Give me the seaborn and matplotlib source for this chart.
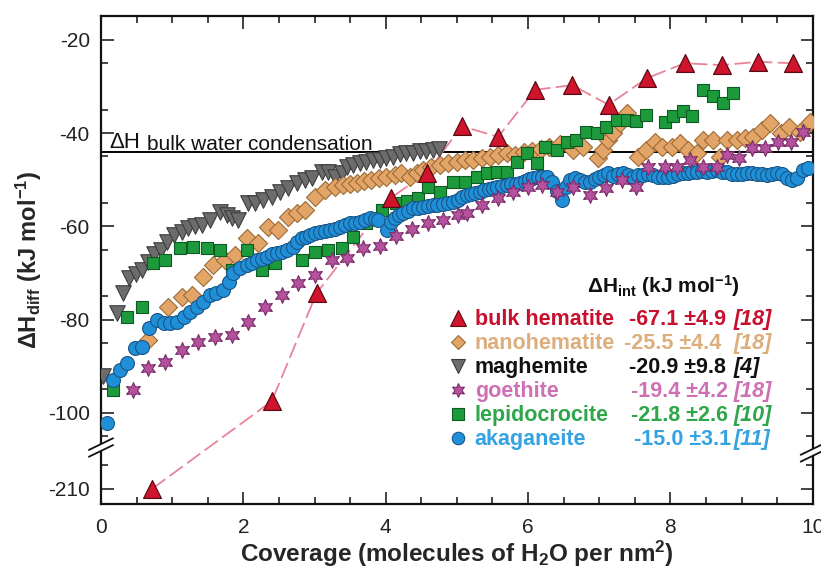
import numpy as np
import matplotlib
matplotlib.use("Agg")
import matplotlib.pyplot as plt
import seaborn as sns

# ---------------- data ----------------
hem_x = [0.72, 2.40, 3.03, 4.07, 4.58, 5.07, 5.58, 6.10, 6.62, 7.13, 7.67, 8.20, 8.72, 9.23, 9.72]
hem_y = [-210, -97.5, -74.3, -53.9, -48.5, -38.5, -40.8, -30.7, -29.7, -33.9, -28.2, -25.0, -25.4, -24.7, -25.0]

mag_x = [0.03, 0.22, 0.31, 0.40, 0.49, 0.57, 0.66, 0.75, 0.84, 0.93, 1.02, 1.14, 1.22, 1.32, 1.42, 1.53,
         1.67, 1.77, 1.84, 1.93, 2.06, 2.16, 2.28, 2.40, 2.51, 2.63, 2.75, 2.86, 2.96, 3.10, 3.19, 3.29,
         3.38, 3.45, 3.54, 3.64, 3.73, 3.82, 3.92, 4.01, 4.10, 4.20, 4.29, 4.38, 4.48, 4.57, 4.66, 4.75]
mag_y = [-92.0, -78.6, -74.4, -71.1, -70.2, -69.4, -67.6, -66.0, -65.1, -63.3, -61.8, -61.2, -60.4, -59.9,
         -59.7, -58.6, -56.9, -57.6, -58.2, -58.6, -55.0, -55.0, -54.3, -53.7, -52.6, -51.8, -50.7, -50.0,
         -49.6, -48.3, -48.3, -49.4, -48.5, -47.3, -46.8, -46.4, -46.2, -45.8, -45.8, -45.3, -45.1, -44.4,
         -44.2, -44.2, -43.9, -43.9, -43.7, -43.5]

nano_x = [0.66, 0.94, 1.14, 1.28, 1.43, 1.57, 1.74, 1.88, 2.05, 2.21, 2.35, 2.49, 2.63, 2.75, 2.86, 3.00,
          3.15, 3.29, 3.40, 3.50, 3.60, 3.70, 3.80, 3.90, 4.01, 4.13, 4.22, 4.34, 4.44, 4.52, 4.64, 4.76,
          4.88, 5.00, 5.11, 5.22, 5.35, 5.46, 5.58, 5.70, 5.82, 5.94, 6.06, 6.18, 6.30, 6.45, 6.63, 6.77,
          6.98, 7.05, 7.12, 7.19, 7.29, 7.39, 7.54, 7.66, 7.78, 7.88, 8.02, 8.13, 8.25, 8.37, 8.46, 8.60,
          8.69, 8.80, 8.93, 9.05, 9.16, 9.28, 9.40, 9.56, 9.67, 9.82, 9.96]
nano_y = [-84.4, -77.2, -75.2, -74.7, -70.9, -68.3, -67.2, -66.1, -62.5, -63.6, -60.1, -60.8, -58.0, -57.1,
          -56.5, -53.7, -52.2, -51.5, -51.2, -51.0, -50.6, -50.3, -50.0, -49.6, -49.4, -49.0, -48.5, -49.4,
          -48.5, -47.9, -47.3, -46.8, -46.4, -46.2, -45.8, -45.8, -45.3, -45.1, -44.7, -44.2, -44.6, -44.0,
          -43.8, -43.4, -43.0, -42.3, -43.6, -43.0, -45.3, -43.6, -41.5, -40.0, -37.8, -35.7, -45.1, -43.6,
          -41.9, -43.0, -43.0, -42.1, -43.6, -44.3, -41.5, -41.5, -45.1, -41.5, -41.5, -41.0, -40.8, -39.3,
          -37.8, -40.0, -38.6, -39.7, -37.6]

lep_x = [0.17, 0.36, 0.57, 0.73, 0.90, 1.11, 1.29, 1.49, 1.67, 1.84, 2.05, 2.26, 2.44, 2.82, 3.00, 3.19,
         3.38, 3.54, 3.73, 3.95, 4.15, 4.30, 4.45, 4.60, 4.76, 4.94, 5.11, 5.28, 5.42, 5.56, 5.70, 5.84,
         5.98, 6.12, 6.24, 6.40, 6.54, 6.68, 6.82, 6.97, 7.10, 7.25, 7.39, 7.52, 7.66, 7.92, 8.04, 8.17,
         8.30, 8.46, 8.60, 8.74, 8.88]
lep_y = [-95.1, -79.4, -77.3, -67.9, -67.2, -64.6, -64.4, -64.6, -65.1, -69.4, -65.1, -69.4, -67.9, -67.2,
         -65.5, -65.1, -64.6, -62.3, -59.3, -56.5, -55.0, -54.5, -53.9, -51.5, -52.6, -50.5, -50.5, -49.4,
         -48.5, -48.3, -48.3, -46.2, -44.2, -46.4, -43.0, -43.6, -41.9, -41.5, -39.7, -40.0, -38.6, -37.2,
         -37.2, -37.4, -36.1, -37.6, -36.3, -35.2, -36.3, -30.7, -32.0, -33.5, -31.4]

goe_x = [0.45, 0.66, 0.90, 1.14, 1.36, 1.60, 1.84, 2.06, 2.30, 2.54, 2.77, 3.00, 3.24, 3.45, 3.68, 3.92,
         4.15, 4.37, 4.60, 4.80, 5.01, 5.14, 5.35, 5.58, 5.79, 6.00, 6.20, 6.41, 6.63, 6.87, 7.10, 7.32,
         7.52, 7.68, 7.92, 8.09, 8.27, 8.46, 8.65, 8.79, 8.97, 9.14, 9.33, 9.51, 9.70, 9.86]
goe_y = [-95.1, -90.4, -89.1, -86.5, -84.8, -83.7, -83.3, -80.5, -77.3, -74.7, -72.1, -70.4, -67.2, -66.8,
         -64.6, -64.2, -62.0, -60.5, -59.3, -58.6, -57.6, -57.1, -55.4, -53.9, -52.6, -51.5, -51.1, -52.6,
         -51.6, -53.3, -51.8, -50.0, -51.5, -47.3, -47.3, -47.3, -45.8, -47.3, -47.3, -44.7, -45.3, -43.2,
         -43.2, -41.9, -41.9, -39.7]

aka_x = [0.08, 0.17, 0.27, 0.36, 0.48, 0.57, 0.67, 0.79, 0.88, 0.97, 1.07, 1.16, 1.25, 1.35, 1.44, 1.53,
         1.62, 1.72, 1.80, 1.86, 1.95, 2.05, 2.12, 2.19, 2.26, 2.33, 2.40, 2.47, 2.54, 2.61, 2.70, 2.76,
         2.82, 2.88, 2.94, 3.01, 3.08, 3.15, 3.22, 3.29, 3.36, 3.43, 3.50, 3.57, 3.64, 3.71, 3.78, 3.85,
         3.89, 4.02, 4.08, 4.13, 4.19, 4.24, 4.31, 4.38, 4.45, 4.52, 4.59, 4.66, 4.72, 4.80, 4.87, 4.94,
         5.01, 5.07, 5.14, 5.20, 5.26, 5.32, 5.38, 5.45, 5.51, 5.57, 5.64, 5.70, 5.76, 5.83, 5.89, 5.95,
         6.01, 6.07, 6.14, 6.20, 6.26, 6.33, 6.40, 6.47, 6.53, 6.59, 6.66, 6.73, 6.80, 6.87, 6.94, 7.00,
         7.06, 7.12, 7.19, 7.26, 7.33, 7.40, 7.47, 7.54, 7.61, 7.68, 7.75, 7.82, 7.89, 7.96, 8.03, 8.10,
         8.17, 8.24, 8.31, 8.38, 8.45, 8.52, 8.59, 8.66, 8.73, 8.80, 8.87, 8.94, 9.01, 9.08, 9.15, 9.22,
         9.29, 9.36, 9.43, 9.50, 9.57, 9.64, 9.71, 9.78, 9.86, 9.93]
aka_y = [-102.2, -93.0, -90.8, -89.3, -86.1, -85.9, -81.8, -80.1, -80.7, -80.7, -80.5, -79.4, -78.4, -77.3,
         -76.2, -74.7, -74.3, -73.6, -72.0, -70.0, -69.0, -68.3, -67.8, -67.2, -67.0, -66.6, -66.0, -65.7,
         -65.4, -65.1, -64.4, -63.4, -62.5, -62.2, -61.8, -61.5, -61.2, -61.0, -60.8, -60.5, -60.1, -59.7,
         -59.3, -59.2, -59.1, -58.6, -58.2, -58.4, -58.6, -60.8, -59.0, -58.2, -57.6, -57.1, -56.6, -56.1,
         -56.0, -55.8, -55.6, -55.5, -55.4, -55.2, -55.0, -54.8, -54.3, -53.8, -53.3, -53.0, -52.8, -52.6,
         -52.3, -52.0, -51.8, -51.5, -51.3, -51.1, -51.0, -50.9, -50.7, -50.3, -49.9, -49.6, -49.5, -49.4,
         -49.4, -50.5, -52.5, -54.3, -51.5, -50.0, -49.6, -50.0, -50.4, -50.5, -49.8, -49.4, -48.9, -48.5,
         -49.2, -48.8, -48.5, -49.0, -49.4, -49.0, -49.0, -48.8, -49.0, -49.4, -49.4, -49.4, -49.2, -48.8,
         -48.5, -48.5, -48.3, -48.3, -48.1, -48.3, -48.1, -47.9, -48.3, -48.3, -48.8, -48.8, -48.8, -48.5,
         -48.5, -48.8, -48.8, -49.0, -48.8, -48.5, -48.8, -49.6, -50.0, -49.6, -47.9, -47.5]

water_condensation = -44.0

legend_names = ["bulk hematite", "nanohematite", "maghemite", "goethite", "lepidocrocite", "akaganeite"]
legend_values = ["-67.1 \u00b14.9", "-25.5 \u00b14.4", "-20.9 \u00b19.8", "-19.4 \u00b14.2", "-21.8 \u00b12.6", "-15.0 \u00b13.1"]
legend_refs = ["[18]", "[18]", "[4]", "[18]", "[10]", "[11]"]

x_ticks = [0, 2, 4, 6, 8, 10]
y_ticks = [-210, -100, -80, -60, -40, -20]

# ---------------- style ----------------
sns.set_style("ticks")
plt.rcParams['font.family'] = ['Liberation Sans', 'DejaVu Sans']
plt.rcParams['mathtext.fontset'] = 'custom'
plt.rcParams['mathtext.rm'] = 'Liberation Sans'
plt.rcParams['mathtext.bf'] = 'Liberation Sans:bold'
plt.rcParams['mathtext.it'] = 'Liberation Sans:italic'
plt.rcParams['axes.unicode_minus'] = False

fig = plt.figure(figsize=(8.21, 5.69), dpi=100)
ax = fig.add_axes([0.123, 0.114, 0.867, 0.858])

# broken y axis: -200..-215 is brought up just below -105
def fwd(v):
    v = np.asarray(v, dtype=float)
    return np.where(v >= -105, v, np.where(v <= -200, v + 93.7, -105 + (v + 105) * (1.3 / 95)))

def inv(u):
    u = np.asarray(u, dtype=float)
    return np.where(u >= -105, u, np.where(u <= -106.3, u - 93.7, -105 + (u + 105) * (95 / 1.3)))

ax.set_yscale('function', functions=(fwd, inv))

# colours
c_hem, e_hem = '#d0142c', '#5a0a14'
c_nano, e_nano = '#e3a567', '#9c6a36'
c_mag, e_mag = '#6c6c6c', '#3c3c3c'
c_goe, e_goe = '#b4529e', '#7a2a68'
c_lep, e_lep = '#1d9a3c', '#0e5a22'
c_aka, e_aka = '#1f8fd8', '#1a5588'

t_colors = ['#c8102e', '#dcae7c', '#111111', '#d070b4', '#2ea64a', '#35a2e2']

# hematite connecting line
sns.lineplot(x=hem_x, y=hem_y, ax=ax, color='#e8849a', lw=1.3, linestyle=(0, (9, 3)),
             errorbar=None, zorder=2)

sns.scatterplot(x=mag_x, y=mag_y, ax=ax, marker='v', s=125, color=c_mag, edgecolor=e_mag,
                linewidth=0.8, zorder=3)
sns.scatterplot(x=nano_x, y=nano_y, ax=ax, marker='D', s=85, color=c_nano, edgecolor=e_nano,
                linewidth=0.8, zorder=3)
sns.scatterplot(x=lep_x, y=lep_y, ax=ax, marker='s', s=80, color=c_lep, edgecolor=e_lep,
                linewidth=0.8, zorder=4)
sns.scatterplot(x=aka_x, y=aka_y, ax=ax, marker='o', s=100, color=c_aka, edgecolor=e_aka,
                linewidth=0.8, zorder=4)
sns.scatterplot(x=goe_x, y=goe_y, ax=ax, marker=(6, 1, 0), s=130, color=c_goe, edgecolor=e_goe,
                linewidth=0.8, zorder=5)
sns.scatterplot(x=hem_x, y=hem_y, ax=ax, marker='^', s=165, color=c_hem, edgecolor=e_hem,
                linewidth=0.9, zorder=6)

ax.axhline(water_condensation, color='black', lw=1.4, zorder=1)

ax.set_xlim(0, 10)
ax.set_ylim(-213.3, -14.85)
ax.set_xticks(x_ticks)
ax.set_xticklabels([str(t) for t in x_ticks])
ax.set_xticks(np.arange(0.5, 10, 0.5), minor=True)
ax.set_yticks(y_ticks)
ax.set_yticklabels([str(t) for t in y_ticks])
ax.set_yticks([-205, -105, -95, -85, -75, -65, -55, -45, -35, -25], minor=True)

ax.tick_params(which='both', direction='in', top=True, right=True, width=1.2, colors='#222222',
               labelsize=15)
ax.tick_params(which='major', length=9)
ax.tick_params(which='minor', length=5)
ax.tick_params(axis='y', pad=8)
ax.tick_params(axis='x', pad=10)
for sp in ax.spines.values():
    sp.set_linewidth(1.6)
    sp.set_color('#111111')

ax.set_xlabel('Coverage (molecules of H$_{\\mathbf{2}}$O per nm$^{\\mathbf{2}}$)', fontsize=17.5,
              fontweight='bold', labelpad=1)
ax.set_ylabel('\u0394H$_{\\mathbf{diff}}$ (kJ mol$^{\\mathbf{-1}}$)', fontsize=17, fontweight='bold',
              labelpad=3)

# bulk water condensation label
ax.text(0.12, -43.1, '\u0394H', fontsize=16, va='baseline', ha='left', color='#111111')
ax.text(0.64, -43.7, 'bulk water condensation', fontsize=15, va='baseline', ha='left', color='#111111')

# axis break marks
def brk(xa, ya):
    ax.plot([xa, xa], [ya - 0.007, ya + 0.007], transform=ax.transAxes, color='white', lw=3,
            clip_on=False, zorder=20, solid_capstyle='butt')
    for d in (-0.007, 0.007):
        ax.plot([xa - 0.017, xa + 0.017], [ya + d - 0.012, ya + d + 0.012], transform=ax.transAxes,
                color='#111111', lw=1.3, clip_on=False, zorder=21)

brk(0.0, 0.116)
brk(1.0, 0.106)

# custom legend table
ax.text(0.683, (504 - 293) / 488.0, '\u0394H$_{\\mathbf{int}}$ (kJ mol$^{\\mathbf{-1}}$)',
        transform=ax.transAxes, fontsize=15, fontweight='bold', va='baseline', ha='left',
        color='#111111')
leg_markers = [('^', c_hem, e_hem, 11), ('D', c_nano, e_nano, 7), ('v', c_mag, e_mag, 10),
               ((6, 1, 0), c_goe, e_goe, 10), ('s', c_lep, e_lep, 8), ('o', c_aka, e_aka, 9)]
val_right = [726, 721, 726, 728, 728, 731]
for i, name in enumerate(legend_names):
    yb = (504 - (325 + 24.0 * i)) / 488.0
    m, fc, ec, ms = leg_markers[i]
    ax.plot([0.501], [yb + 0.014], transform=ax.transAxes, marker=m, ms=ms, mfc=fc, mec=ec, mew=0.8,
            ls='none', clip_on=False, zorder=10)
    ax.text(0.525, yb, name, transform=ax.transAxes, fontsize=15.5, fontweight='bold',
            color=t_colors[i], va='baseline', ha='left')
    ax.text((val_right[i] - 101) / 712.0, yb, legend_values[i], transform=ax.transAxes, fontsize=15.5,
            fontweight='bold', color=t_colors[i], va='baseline', ha='right')
    ax.text((734 - 101) / 712.0, yb, legend_refs[i], transform=ax.transAxes, fontsize=15.5,
            fontweight='bold', fontstyle='italic', color=t_colors[i], va='baseline', ha='left')

fig.savefig('out.png', dpi=100)
